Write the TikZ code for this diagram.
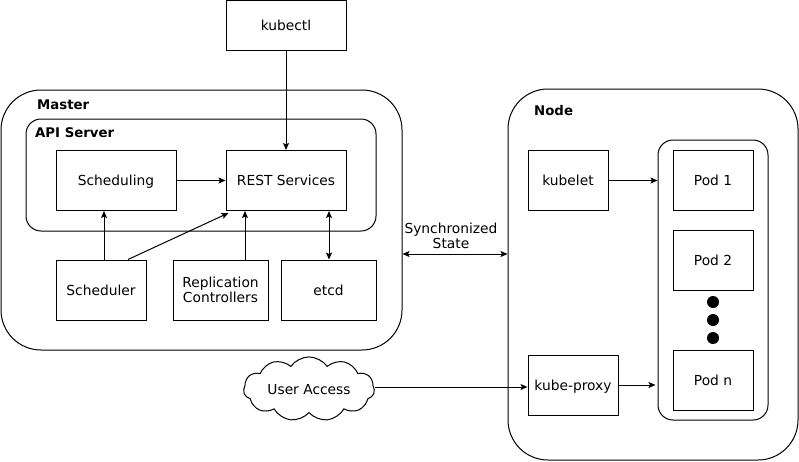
\documentclass[tikz,border=0pt]{standalone}
\usepackage{fontspec}
\setmainfont{DejaVu Sans}
\usetikzlibrary{arrows.meta,shapes.symbols}
\begin{document}
\begin{tikzpicture}[x=1pt,y=-1pt,
  every node/.style={font=\fontsize{13.8}{15}\selectfont},
  box/.style={draw,line width=1pt,rectangle,inner sep=0pt,align=center,text depth=0pt},
  group/.style={draw,line width=1pt,rectangle,inner sep=0pt},
  lbl/.style={anchor=base west,inner sep=0pt,font=\fontsize{13.3}{15}\selectfont\bfseries},
  conn/.style={line width=1pt,-{Stealth[length=7pt,width=6pt,inset=1.5pt]}},
  biconn/.style={line width=1pt,{Stealth[length=7pt,width=6pt,inset=1.5pt]}-{Stealth[length=7pt,width=6pt,inset=1.5pt]}},
  dot/.style={circle,fill=black,inner sep=0pt,minimum size=12pt}
]
\useasboundingbox (0,0) rectangle (799,461);
% groups
\node[group,rounded corners=40pt,minimum width=401pt,minimum height=260pt] (master) at (201.5,220) {};
\node[group,rounded corners=15pt,minimum width=350pt,minimum height=112pt] (api) at (201,175) {};
\node[group,rounded corners=40pt,minimum width=290pt,minimum height=371pt] (nodebox) at (653,274.5) {};
\node[group,rounded corners=15pt,minimum width=110pt,minimum height=280pt] (pods) at (713,280) {};
\node[lbl] (masterlbl) at (37,109) {Master};
\node[lbl] (apilbl) at (35,137) {API Server};
\node[lbl] (nodelbl) at (534,115) {Node};
% boxes
\node[box,minimum width=120pt,minimum height=50pt] (kubectl) at (286,25) {kubectl};
\node[box,minimum width=120pt,minimum height=60pt] (scheduling) at (116,180.5) {Scheduling};
\node[box,minimum width=120pt,minimum height=60pt] (rest) at (286,180.5) {REST Services};
\node[box,minimum width=90pt,minimum height=60pt] (scheduler) at (101,290) {Scheduler};
\node[box,minimum width=95pt,minimum height=60pt] (repl) at (220.5,290) {Replication\\Controllers};
\node[box,minimum width=95pt,minimum height=60pt] (etcd) at (328.5,290) {etcd};
\node[box,minimum width=80pt,minimum height=60pt] (kubelet) at (568,180.5) {kubelet};
\node[box,minimum width=80pt,minimum height=60pt] (pod1) at (713,180.5) {Pod 1};
\node[box,minimum width=80pt,minimum height=60pt] (pod2) at (713,260) {Pod 2};
\node[box,minimum width=80pt,minimum height=60pt] (podn) at (713,380) {Pod n};
\node[box,minimum width=90pt,minimum height=60pt] (kubeproxy) at (573,385) {kube-proxy};
\node[dot] (d1) at (713,302) {};
\node[dot] (d2) at (713,320) {};
\node[dot] (d3) at (713,338) {};
\node[cloud,draw,line width=1pt,cloud puffs=11,cloud puff arc=110,aspect=2.4,minimum width=131pt,minimum height=60pt,inner sep=0pt,text depth=0pt] (user) at (309,389) {User Access};
% connectors
\draw[conn] (kubectl.south) -- (rest.north);
\draw[conn] (scheduling.east) -- (rest.west);
\draw[conn] ([xshift=3pt]scheduler.north) -- ([xshift=-12pt]scheduling.south);
\draw[conn] ([xshift=27pt]scheduler.north) -- ([xshift=3pt,yshift=-2pt]rest.south west);
\draw[conn] ([xshift=24.5pt]repl.north) -- ([xshift=-41pt]rest.south);
\draw[biconn] ([xshift=0.5pt]etcd.north) -- ([xshift=43pt]rest.south);
\coordinate (syncL) at ([yshift=-34pt]master.east);
\draw[biconn] (syncL) -- (syncL -| nodebox.west);
\node[align=center,inner sep=0pt] (synclbl) at (451,236) {Synchronized\\State};
\draw[conn] (kubelet.east) -- (kubelet.east -| pods.west);
\draw[conn] (kubeproxy.east) -- ([xshift=-2pt]kubeproxy.east -| pods.west);
\draw[conn] ([yshift=-2pt]user.east |- kubeproxy.west) -- ([yshift=-2pt]kubeproxy.west);
\end{tikzpicture}
\end{document}
